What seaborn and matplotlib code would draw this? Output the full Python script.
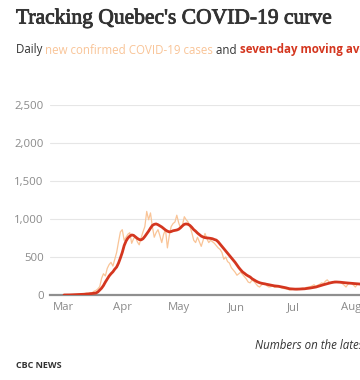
import matplotlib
matplotlib.use("Agg")
import matplotlib.pyplot as plt
import matplotlib.dates as mdates
import matplotlib.patheffects as pe
import seaborn as sns
import pandas as pd

# Daily new confirmed cases, from 2020-03-01
daily_cases = [0, 0, 1, 1, 2, 3, 4, 5, 7, 10, 15, 20, 25, 20, 30,
               30, 50, 60, 80, 110, 220, 280, 250, 350, 400, 430, 380, 470, 560, 700,
               830, 860, 720, 760, 800, 820, 680, 740, 770, 700, 660, 750, 830, 900, 1100,
               990, 1080, 900, 760, 820, 860, 780, 690, 800, 860, 620, 780, 900, 940, 960,
               1050, 950, 880, 920, 1030, 990, 960, 900, 820, 720, 690, 760, 700, 640, 720,
               810, 740, 690, 720, 700, 680, 650, 620, 600, 560, 470, 500, 440, 420, 360,
               330, 300, 260, 280, 300, 270, 240, 210, 170, 160, 195, 180, 150, 120, 105,
               130, 150, 155, 120, 105, 110, 120, 100, 105, 110, 100, 90, 85, 80, 75,
               66, 70, 80, 75, 70, 80, 85, 90, 80, 100, 105, 110, 120, 135, 110,
               130, 140, 160, 150, 180, 200, 170, 150, 160, 180, 175, 170, 165, 150, 130,
               105, 140, 160, 155, 130, 105, 140, 150, 120, 140, 150, 130, 140]

# Seven-day moving average
moving_avg = [0, 0, 1, 1, 2, 2, 3, 4, 5, 6, 8, 10, 12, 15, 17,
              20, 23, 26, 40, 66, 90, 125, 170, 210, 250, 280, 305, 340, 368, 420,
              487, 560, 650, 710, 750, 775, 790, 785, 765, 745, 730, 725, 740, 770, 805,
              840, 880, 915, 930, 935, 925, 910, 895, 875, 855, 840, 830, 835, 845, 850,
              855, 865, 885, 910, 930, 935, 930, 915, 890, 860, 840, 815, 795, 775, 763,
              755, 752, 750, 745, 740, 730, 722, 700, 670, 640, 610, 580, 550, 520, 490,
              461, 430, 395, 360, 330, 303, 285, 265, 250, 237, 215, 200, 185, 172, 162,
              155, 150, 145, 140, 135, 130, 125, 120, 118, 115, 110, 105, 100, 95, 88,
              82, 80, 78, 77, 77, 78, 79, 80, 82, 85, 88, 92, 96, 100, 105,
              112, 120, 128, 135, 142, 148, 155, 162, 167, 170, 171, 170, 168, 165, 162,
              160, 158, 157, 155, 152, 150, 148, 145, 143, 142, 142, 141, 140]

y_ticks = [0, 500, 1000, 1500, 2000, 2500]
y_tick_labels = ["0", "500", "1,000", "1,500", "2,000", "2,500"]

dates = pd.date_range("2020-03-01", periods=len(daily_cases), freq="D")
df = pd.DataFrame({"date": dates, "daily": daily_cases, "avg": moving_avg})

sns.set_style("white")
plt.rcParams["font.family"] = ["Open Sans", "DejaVu Sans"]

W, H = 360, 380
fig = plt.figure(figsize=(W / 100, H / 100), dpi=100)

# axes in pixel coordinates: left 50, right 420 (cropped), top 105, bottom 295
left_px, right_px, top_px, bot_px = 50, 420, 105, 295
ax = fig.add_axes([left_px / W, 1 - bot_px / H, (right_px - left_px) / W, (bot_px - top_px) / H])

sns.lineplot(data=df, x="date", y="daily", ax=ax, color="#f9c497", lw=0.9, zorder=3)
sns.lineplot(data=df, x="date", y="avg", ax=ax, color="#d4361f", lw=2.0, zorder=4)

day0 = pd.Timestamp("2020-03-01")
ppd = 1.88
ax.set_xlim(day0 + pd.Timedelta(days=(left_px - 64) / ppd), day0 + pd.Timedelta(days=(right_px - 64) / ppd))
ax.set_ylim(0, 2500)
ax.set_yticks(y_ticks)
ax.set_yticklabels(y_tick_labels)
ax.xaxis.set_major_locator(mdates.MonthLocator())
ax.xaxis.set_major_formatter(mdates.DateFormatter("%b"))
ax.set_xlabel("")
ax.set_ylabel("")
ax.grid(axis="y", color="#e6e6e6", lw=0.8)
ax.grid(axis="x", visible=False)
for s in ["top", "right", "left"]:
    ax.spines[s].set_visible(False)
ax.spines["bottom"].set_color("#8f8f8f")
ax.spines["bottom"].set_linewidth(1.6)
ax.spines["bottom"].set_zorder(2)
ax.tick_params(axis="both", length=0, labelsize=8.2, colors="#8a8a8a")
ax.tick_params(axis="y", pad=4.5)
ax.tick_params(axis="x", pad=5)
ax.patch.set_alpha(0)

# Title
fig.text(16 / W, 1 - 19 / H, "Tracking Quebec's COVID-19 curve", fontsize=15.5,
         family=["Liberation Serif"], color="#333333", va="center", ha="left",
         path_effects=[pe.withStroke(linewidth=0.6, foreground="#333333")])

# Subtitle with coloured parts
t1 = fig.text(16 / W, 1 - 50 / H, "Daily ", fontsize=8.3, color="#333333", va="center", ha="left")
t2 = ax.annotate("new confirmed COVID-19 cases", xy=(1, 0), xycoords=t1, va="bottom", ha="left",
                 fontsize=8.3, color="#f9c497", annotation_clip=False)
t3 = ax.annotate(" and ", xy=(1, 0), xycoords=t2, va="bottom", ha="left",
                 fontsize=8.3, color="#333333", annotation_clip=False)
t4 = ax.annotate("seven-day moving average", xy=(1, 0), xycoords=t3, va="bottom", ha="left",
                 fontsize=8.3, color="#d4361f", fontweight="bold", annotation_clip=False)

fig.text(255 / W, 1 - 346 / H, "Numbers on the latest day may be incomplete", fontsize=8.3,
         style="italic", color="#333333", va="center", ha="left")
fig.text(16 / W, 1 - 366 / H, "CBC NEWS", fontsize=6.5, fontweight="bold",
         color="#333333", va="center", ha="left")

fig.savefig("out.png", dpi=100)
